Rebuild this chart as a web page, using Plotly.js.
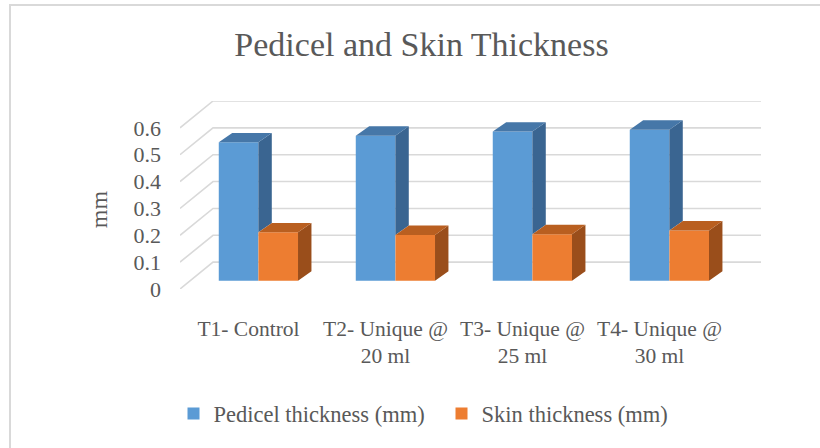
<!DOCTYPE html>
<html>
<head>
<meta charset="utf-8">
<script src="https://cdn.plot.ly/plotly-3.0.1.min.js"></script>
<style>
  html, body { margin: 0; padding: 0; background: #fff; overflow: hidden; }
  #chart { position: absolute; left: 0; top: 0; width: 820px; height: 448px; }
  #frame { position: absolute; left: 9px; top: 4px; width: 900px; height: 600px;
           border-left: 2px solid #d9d9d9; border-top: 2px solid #d9d9d9; pointer-events: none; }
</style>
</head>
<body>
<div id="chart"></div>
<div id="frame"></div>
<script>
// ---- data ----
var categories = ['T1- Control', 'T2- Unique @<br>20 ml', 'T3- Unique @<br>25 ml', 'T4- Unique @<br>30 ml'];
var pedicel = [0.515, 0.54, 0.555, 0.562];
var skin = [0.18, 0.17, 0.173, 0.187];
var yTickVals = [0, 0.1, 0.2, 0.3, 0.4, 0.5, 0.6];
var yTickText = ['0', '0.1', '0.2', '0.3', '0.4', '0.5', '0.6'];
var seriesNames = ['Pedicel thickness (mm)', 'Skin thickness (mm)'];

// ---- 3D look (styling) ----
var BASE = 0.031;      // bar front base lift (depth of bars in floor)
var BW = 0.289;        // bar width (category units)
var OFF = [-0.0725, 0.217];
var DX = 0.098, DY = 0.035;      // bar depth projection
var FDX = 0.241, FDY = 0.1;      // floor depth projection
var XMIN = -0.5, XMAX = 3.741;
var frontCol = ['#5B9BD5', '#ED7D31'];
var topCol = ['#4677A8', '#B95F20'];
var sideCol = ['#3A6591', '#9A4E1B'];
var textCol = '#595959';
var FONT = 'Liberation Serif, Times New Roman, serif';

var idx = categories.map(function (_, i) { return i; });
var vals = [pedicel, skin];

var data = [];
// front faces as bars
vals.forEach(function (v, s) {
  data.push({
    type: 'bar', name: seriesNames[s],
    x: idx.map(function (i) { return i + OFF[s]; }),
    y: v, base: BASE, width: BW,
    marker: { color: frontCol[s], line: { width: 0 } },
    hoverinfo: 'skip'
  });
});

function poly(xs, ys) { return { xs: xs, ys: ys }; }
function faceTrace(polys, color) {
  var X = [], Y = [];
  polys.forEach(function (p) {
    X = X.concat(p.xs, [p.xs[0], null]);
    Y = Y.concat(p.ys, [p.ys[0], null]);
  });
  return { type: 'scatter', mode: 'lines', x: X, y: Y, fill: 'toself', fillcolor: color,
           line: { width: 0, color: color }, showlegend: false, hoverinfo: 'skip' };
}

var blueSide = [], blueTop = [], orSide = [], orTop = [];
idx.forEach(function (i) {
  var x0 = i + OFF[0] - BW / 2, x1 = i + OFF[0] + BW / 2;
  var tB = BASE + pedicel[i];
  var tO = BASE + skin[i];
  blueSide.push(poly([x1, x1, x1 + DX, x1 + DX], [tO, tB, tB + DY, tO + DY]));
  blueTop.push(poly([x0, x1, x1 + DX, x0 + DX], [tB, tB, tB + DY, tB + DY]));
  var o0 = i + OFF[1] - BW / 2, o1 = i + OFF[1] + BW / 2;
  orSide.push(poly([o1, o1, o1 + DX, o1 + DX], [BASE, tO, tO + DY, BASE + DY]));
  orTop.push(poly([o0, o1, o1 + DX, o0 + DX], [tO, tO, tO + DY, tO + DY]));
});
data.push(faceTrace(blueSide, sideCol[0]));
data.push(faceTrace(blueTop, topCol[0]));
data.push(faceTrace(orSide, sideCol[1]));
data.push(faceTrace(orTop, topCol[1]));

// gridlines: floor diagonal + back wall
var shapes = yTickVals.map(function (v) {
  return {
    type: 'path', xref: 'x', yref: 'y', layer: 'below',
    path: 'M' + XMIN + ',' + v + ' L' + (XMIN + FDX) + ',' + (v + FDY) + ' L' + XMAX + ',' + (v + FDY),
    line: { color: '#d9d9d9', width: 1.6 }
  };
});

var W = 820, H = 448;
var L = 179.5, R = W - 761, T = 101, B = H - 291.5;
var plotW = W - L - R, plotH = H - T - B;

var layout = {
  width: W, height: H,
  margin: { l: L, r: R, t: T, b: B, pad: 0 },
  paper_bgcolor: 'rgba(0,0,0,0)', plot_bgcolor: 'rgba(0,0,0,0)',
  font: { family: FONT, color: textCol },
  title: { text: 'Pedicel and Skin Thickness', font: { family: FONT, size: 34, color: textCol },
           x: 421.5 / W, xref: 'container', xanchor: 'center', y: 1 - 44 / H, yref: 'container', yanchor: 'middle' },
  barmode: 'overlay',
  showlegend: true,
  legend: { orientation: 'h', x: (173 - L) / plotW, xanchor: 'left', y: (291.5 - 418) / plotH, yanchor: 'middle',
            entrywidth: 223, entrywidthmode: 'pixels',
            font: { family: FONT, size: 22.5, color: textCol }, bgcolor: 'rgba(0,0,0,0)', traceorder: 'normal' },
  xaxis: { range: [XMIN, XMAX], tickmode: 'array', tickvals: idx, ticktext: categories,
           showgrid: false, zeroline: false, showline: false, ticks: '', fixedrange: true,
           tickfont: { family: FONT, size: 21.5, color: textCol }, ticklabelstandoff: 24 },
  yaxis: { range: [0, 0.7], tickmode: 'array', tickvals: yTickVals, ticktext: yTickText,
           showgrid: false, zeroline: false, showline: false, ticks: '', fixedrange: true,
           tickfont: { family: FONT, size: 22, color: textCol }, ticklabelstandoff: 18 },
  shapes: shapes,
  annotations: [{
    text: 'mm', textangle: -90, showarrow: false, xref: 'paper', yref: 'paper',
    x: (98 - L) / plotW, y: (291.5 - 211) / plotH, xanchor: 'center', yanchor: 'middle',
    font: { family: FONT, size: 24, color: textCol }
  }]
};

Plotly.newPlot('chart', data, layout, { displayModeBar: false, staticPlot: true });
</script>
</body>
</html>
